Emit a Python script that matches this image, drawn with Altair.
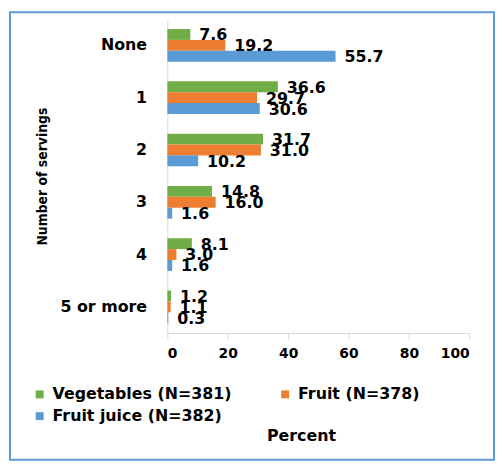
import altair as alt
import pandas as pd

categories = ["None", "1", "2", "3", "4", "5 or more"]
series = ["Vegetables (N=381)", "Fruit (N=378)", "Fruit juice (N=382)"]
vegetables = [7.6, 36.6, 31.7, 14.8, 8.1, 1.2]
fruit = [19.2, 29.7, 31.0, 16.0, 3.0, 1.1]
fruit_juice = [55.7, 30.6, 10.2, 1.6, 1.6, 0.3]
colors = ["#70AD47", "#ED7D31", "#5B9BD5"]

rows = []
for s, vals in zip(series, [vegetables, fruit, fruit_juice]):
    for c, v in zip(categories, vals):
        rows.append({"servings": c, "series": s, "percent": v})
df = pd.DataFrame(rows)

W, H = 305, 317
FONT = "DejaVu Sans"

y_enc = alt.Y("servings:N", sort=categories,
              scale=alt.Scale(paddingInner=0.375, paddingOuter=0.1875),
              axis=alt.Axis(title="Number of servings", labelFontSize=16,
                            labelFontWeight="bold", labelFont=FONT, labelColor="#000000",
                            labelPadding=21, ticks=False, domainColor="#D9D9D9",
                            titleFont="DejaVu Sans Condensed", titleFontSize=14,
                            titleFontWeight="bold", titleColor="#000000",
                            titlePadding=11))
yoff = alt.YOffset("series:N", sort=series, scale=alt.Scale(paddingInner=0, paddingOuter=0))

x_enc = alt.X("percent:Q", scale=alt.Scale(domain=[0, 100]),
              axis=alt.Axis(values=[0, 20, 40, 60, 80, 100], grid=False,
                            domainColor="#D9D9D9", tickColor="#D9D9D9", tickSize=6,
                            labelFontSize=14, labelFontWeight="bold", labelFont=FONT,
                            labelColor="#000000", labelPadding=8,
                            title="Percent", titleFont=FONT, titleFontSize=16,
                            titleFontWeight="bold", titleColor="#000000",
                            titleX=135, titleAlign="center",
                            titlePadding=68))

color_enc = alt.Color("series:N", sort=series,
                      scale=alt.Scale(domain=series, range=colors),
                      legend=alt.Legend(title=None, orient="none", legendX=-137, legendY=371,
                                        direction="horizontal",
                                        columns=2, symbolType="square", symbolSize=64,
                                        symbolStrokeWidth=0, labelFontSize=16,
                                        labelFontWeight="bold", labelFont=FONT,
                                        labelColor="#000000", columnPadding=46,
                                        labelLimit=300,
                                        rowPadding=6, labelOffset=5))

bars = alt.Chart(df).mark_bar(size=11).encode(x=x_enc, y=y_enc, yOffset=yoff, color=color_enc)

labels = alt.Chart(df).mark_text(align="left", baseline="middle", dx=9, dy=1,
                                 font=FONT, fontSize=16, fontWeight="bold",
                                 color="#000000").encode(
    x="percent:Q", y=alt.Y("servings:N", sort=categories), yOffset=yoff,
    text=alt.Text("percent:Q", format=".1f"))

frame = alt.Chart(pd.DataFrame({"k": [0]})).mark_rect(
    fill=None, stroke="#5B9BD5", strokeWidth=2).encode(
    x=alt.value(-159), x2=alt.value(330), y=alt.value(-7), y2=alt.value(445))

chart = alt.layer(frame, bars, labels).properties(
    width=W, height=H,
    autosize=alt.AutoSizeParams(type="none"),
    padding={"left": 161, "top": 9, "right": 26, "bottom": 130},
).configure_view(stroke=None)

chart.save("out.html", embed_options={"renderer": "svg", "actions": False})
